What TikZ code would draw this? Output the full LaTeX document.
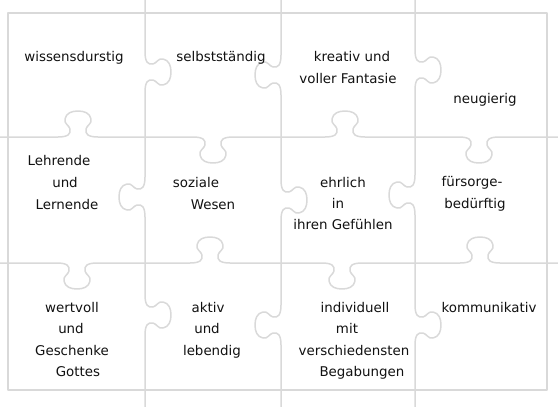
\documentclass[tikz,border=0pt]{standalone}
\usepackage{fontspec}
\setmainfont{DejaVu Sans}
\definecolor{seam}{HTML}{D9D9D9}
\definecolor{inkline}{HTML}{111111}
% knob on a horizontal seam: centre x, seam y, direction (+1 down, -1 up)
\newcommand{\knobh}[3]{%
  -- ({#1-20},{#2})
  .. controls ({#1-10},{#2}) and ({#1-7},{#2+3*(#3)}) .. ({#1-8},{#2+8*(#3)})
  .. controls ({#1-9},{#2+12*(#3)}) and ({#1-14},{#2+13*(#3)}) .. ({#1-13},{#2+18*(#3)})
  .. controls ({#1-12},{#2+24*(#3)}) and ({#1-6},{#2+26*(#3)}) .. ({#1},{#2+26*(#3)})
  .. controls ({#1+6},{#2+26*(#3)}) and ({#1+12},{#2+24*(#3)}) .. ({#1+13},{#2+18*(#3)})
  .. controls ({#1+14},{#2+13*(#3)}) and ({#1+9},{#2+12*(#3)}) .. ({#1+8},{#2+8*(#3)})
  .. controls ({#1+7},{#2+3*(#3)}) and ({#1+10},{#2}) .. ({#1+20},{#2})}
% knob on a vertical seam: seam x, centre y, direction (+1 right, -1 left)
\newcommand{\knobv}[3]{%
  -- ({#1},{#2-20})
  .. controls ({#1},{#2-10}) and ({#1+3*(#3)},{#2-7}) .. ({#1+8*(#3)},{#2-8})
  .. controls ({#1+12*(#3)},{#2-9}) and ({#1+13*(#3)},{#2-14}) .. ({#1+18*(#3)},{#2-13})
  .. controls ({#1+24*(#3)},{#2-12}) and ({#1+26*(#3)},{#2-6}) .. ({#1+26*(#3)},{#2})
  .. controls ({#1+26*(#3)},{#2+6}) and ({#1+24*(#3)},{#2+12}) .. ({#1+18*(#3)},{#2+13})
  .. controls ({#1+13*(#3)},{#2+14}) and ({#1+12*(#3)},{#2+9}) .. ({#1+8*(#3)},{#2+8})
  .. controls ({#1+3*(#3)},{#2+7}) and ({#1},{#2+10}) .. ({#1},{#2+20})}

\begin{document}
\begin{tikzpicture}[
  x=1pt, y=-1pt,
  seamline/.style={draw=seam, line width=1.5pt, line join=round, line cap=round},
  rim/.style={draw=seam, line width=2.2pt, line join=round},
  word/.style={font=\fontsize{13.4}{15}\selectfont, text=inkline, inner sep=0pt,
               text height=9.5pt, text depth=3pt},
]
\useasboundingbox (0,0) rectangle (558,407);

% ---- frame ----
\draw[rim] (8,13) rectangle (547,390);

% ---- horizontal seams ----
\draw[seamline] (0,137) \knobh{78}{137}{-1} \knobh{213}{137}{1} \knobh{345}{137}{-1} \knobh{479}{137}{1} -- (558,137);
\draw[seamline] (0,263) \knobh{77}{263}{1} \knobh{210}{263}{-1} \knobh{342}{263}{1} \knobh{480}{263}{-1} -- (558,263);

% ---- vertical seams ----
\draw[seamline] (145,0) \knobv{145}{72}{1} \knobv{145}{197}{-1} \knobv{145}{315}{1} -- (145,407);
\draw[seamline] (281,0) \knobv{281}{75}{-1} \knobv{281}{200}{1} \knobv{281}{325}{-1} -- (281,407);
\draw[seamline] (415,0) \knobv{415}{70}{1} \knobv{415}{195}{-1} \knobv{415}{325}{1} -- (415,407);

% ---- row 1 ----
\node[word] (wiss)  at (74,58)  {wissensdurstig};
\node[word] (selb)  at (221,58) {selbstständig};
\node[word] (krea1) at (352,58) {kreativ und};
\node[word] (krea2) at (348,80) {voller Fantasie};
\node[word] (neug)  at (485,100) {neugierig};

% ---- row 2 ----
\node[word] (lehr1) at (59,162) {Lehrende};
\node[word] (lehr2) at (65,184) {und};
\node[word] (lehr3) at (67,206) {Lernende};
\node[word] (soz1)  at (196,184) {soziale};
\node[word] (soz2)  at (213,206) {Wesen};
\node[word] (ehr1)  at (343,184) {ehrlich};
\node[word] (ehr2)  at (338,205) {in};
\node[word] (ehr3)  at (343,226) {ihren Gefühlen};
\node[word] (fuer1) at (472,183) {fürsorge-};
\node[word] (fuer2) at (475,205) {bedürftig};

% ---- row 3 ----
\node[word] (wert1) at (72,309) {wertvoll};
\node[word] (wert2) at (71,330) {und};
\node[word] (wert3) at (72,352) {Geschenke};
\node[word] (wert4) at (78,373) {Gottes};
\node[word] (akt1)  at (208,309) {aktiv};
\node[word] (akt2)  at (207,330) {und};
\node[word] (akt3)  at (212,352) {lebendig};
\node[word] (ind1)  at (355,309) {individuell};
\node[word] (ind2)  at (347,330) {mit};
\node[word] (ind3)  at (354,352) {verschiedensten};
\node[word] (ind4)  at (362,373) {Begabungen};
\node[word] (komm)  at (489,309) {kommunikativ};

\end{tikzpicture}
\end{document}
